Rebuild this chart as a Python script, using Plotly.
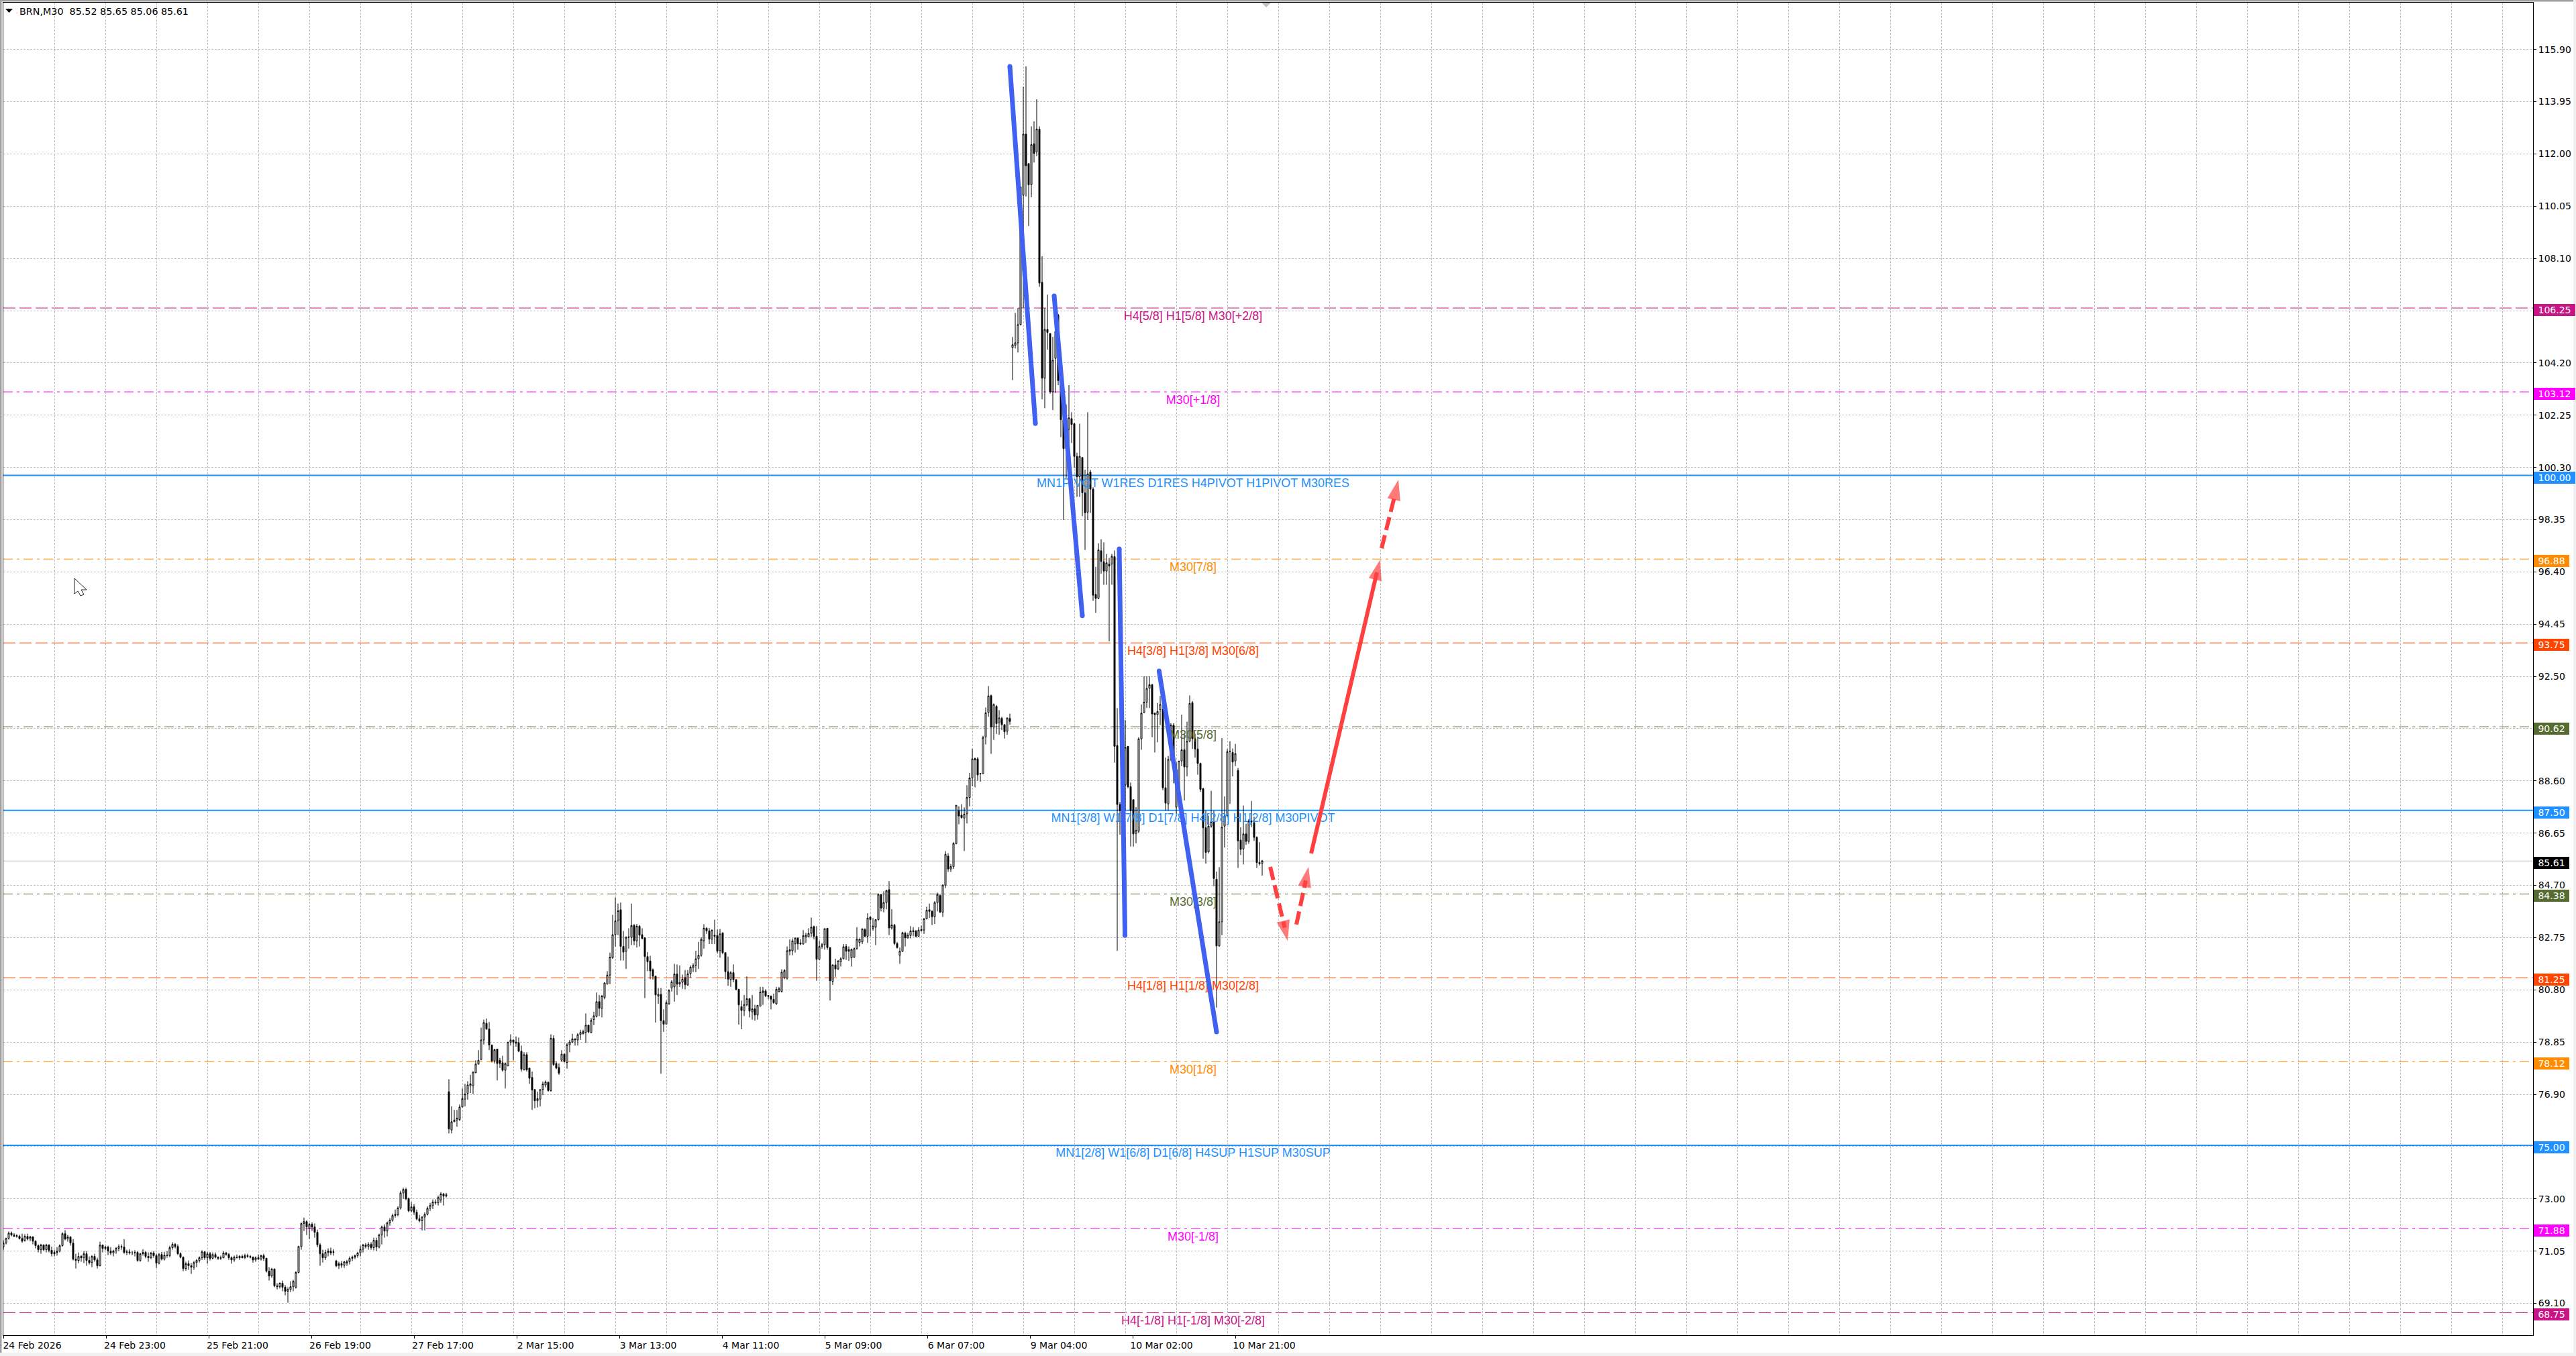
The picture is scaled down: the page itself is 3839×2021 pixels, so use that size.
import plotly.graph_objects as go

# --- data -----------------------------------------------------------------
opens = [
71.20,71.35,71.52,71.72,71.65,71.60,71.60,71.52,71.45,71.60,
71.50,71.58,71.42,71.25,71.10,71.28,71.10,71.28,71.08,70.95,
71.00,71.05,71.25,71.70,71.50,71.58,71.35,70.75,70.70,70.85,
70.80,70.95,70.70,70.62,70.85,70.72,70.50,71.27,71.15,71.20,
71.05,70.98,71.05,71.15,71.22,71.20,71.00,71.02,70.98,70.98,
71.00,70.70,70.95,71.00,70.85,70.80,70.98,70.88,70.60,70.92,
70.75,70.90,70.88,71.18,71.30,71.22,70.95,70.82,70.40,70.58,
70.50,70.45,70.62,70.70,70.80,71.02,70.80,70.95,70.78,70.92,
70.82,70.78,70.80,70.98,70.92,70.80,70.72,70.82,70.80,70.85,
70.80,70.88,70.85,70.82,70.72,70.80,70.75,70.88,70.78,70.30,
70.12,70.38,69.75,69.72,69.85,69.70,69.55,69.62,69.72,69.70,
70.25,71.22,72.08,72.15,71.90,72.05,71.95,71.75,71.28,70.95,
70.80,71.00,71.05,71.00,70.68,70.50,70.58,70.52,70.60,70.65,
70.78,70.82,70.88,70.98,71.12,71.28,71.22,71.30,71.18,71.45,
71.20,71.65,71.95,71.80,72.10,72.20,72.38,72.40,72.66,73.22,
73.35,73.00,72.55,72.70,72.50,72.25,72.18,72.32,72.42,72.65,
72.75,72.88,72.85,72.95,73.18,73.10,
77.00,75.57,75.88,75.94,75.96,76.43,76.72,76.94,77.21,77.21,
77.71,78.03,78.20,78.93,79.55,79.34,78.74,78.15,78.59,78.17,
78.08,77.80,77.96,78.85,78.93,78.85,78.83,78.51,77.81,78.38,
77.88,77.53,77.08,76.66,76.72,77.08,77.25,77.35,77.04,78.99,
78.05,77.90,78.17,78.40,78.09,78.75,78.85,78.97,78.93,79.13,
79.16,79.21,79.48,79.21,79.69,79.81,80.36,80.11,80.51,81.02,
81.35,82.00,82.86,83.37,83.79,82.42,82.24,82.78,82.76,83.20,
82.63,83.18,82.86,82.74,82.04,81.88,81.55,81.31,80.57,80.63,
79.65,79.52,80.28,80.87,80.91,81.39,81.02,81.08,81.26,80.98,
81.40,81.62,81.71,81.96,82.09,82.63,83.10,83.00,82.69,82.84,
82.83,82.26,82.93,82.19,81.48,81.18,81.44,81.18,80.82,80.17,
80.03,80.24,80.47,79.98,80.09,79.86,80.19,80.70,80.76,80.59,
80.57,80.45,80.28,80.74,80.74,81.25,81.23,82.24,82.26,82.52,
82.73,82.55,82.51,82.78,82.78,82.91,83.16,82.80,81.94,82.42,
82.49,83.10,82.38,81.12,81.73,81.58,81.85,81.96,82.42,82.30,
82.00,82.02,82.34,82.57,82.59,83.05,82.80,83.52,83.10,83.14,
83.42,84.36,83.85,84.06,84.54,83.11,83.22,82.53,82.09,82.24,
82.91,82.74,82.83,83.01,83.00,82.80,83.05,83.03,83.45,83.79,
83.73,83.53,84.06,84.32,83.70,84.71,85.79,85.31,85.40,86.26,
87.48,87.32,87.21,87.37,87.98,88.71,89.44,89.42,88.86,88.86,
90.24,91.16,91.78,90.61,91.38,90.76,90.93,90.70,90.45,90.93,
104.77,104.85,104.95,105.63,110.46,112.74,111.64,110.85,112.38,112.07,
112.93,107.21,103.63,105.45,105.30,103.12,104.37,105.99,103.58,102.08,
101.00,101.72,102.12,101.93,100.71,99.95,100.67,99.35,98.63,100.13,
99.49,95.56,95.41,97.19,96.78,96.43,96.69,96.69,96.97,89.92,
87.72,87.49,88.45,89.89,88.38,87.90,86.64,86.72,90.17,91.15,
91.54,92.06,92.19,91.13,91.07,91.26,91.26,88.34,87.74,89.40,
90.68,87.62,88.25,89.34,89.76,89.12,90.08,91.52,90.17,89.79,
89.25,88.31,86.85,85.95,86.91,87.08,84.93,82.44,83.34,86.91,
87.30,89.69,89.66,89.34,88.99,86.39,86.06,86.62,86.34,87.10,
87.04,86.49,85.55,85.52,
]
highs = [
71.45,71.55,71.78,71.78,71.72,71.68,71.66,71.70,71.68,71.70,
71.62,71.60,71.45,71.30,71.32,71.30,71.32,71.30,71.22,71.10,
71.20,71.30,71.75,71.83,71.65,71.60,71.50,70.95,71.00,70.90,
71.05,71.05,70.85,70.90,70.95,70.80,71.40,71.30,71.25,71.25,
71.20,71.10,71.20,71.30,71.30,71.50,71.10,71.12,71.05,71.08,
71.05,70.98,71.12,71.05,71.00,71.02,71.05,70.95,70.98,71.02,
71.02,71.05,71.25,71.38,71.35,71.30,71.00,70.85,70.65,70.70,
70.60,70.68,70.75,70.85,71.08,71.05,71.02,71.02,71.00,71.00,
70.85,70.88,71.05,71.02,70.98,70.85,70.88,70.92,70.90,70.92,
70.95,70.95,70.90,70.85,70.85,70.92,70.92,70.95,70.80,70.45,
70.42,70.40,69.85,69.88,69.95,69.78,69.70,69.92,69.98,70.30,
71.25,72.12,72.30,72.20,72.10,72.12,72.08,71.85,71.35,71.10,
71.10,71.15,71.18,71.12,70.72,70.65,70.68,70.68,70.72,70.85,
70.88,70.92,71.02,71.25,71.32,71.35,71.38,71.38,71.55,71.55,
71.70,72.00,72.05,72.15,72.28,72.45,72.60,72.72,73.30,73.42,
73.42,73.05,72.88,72.80,72.60,72.40,72.35,72.50,72.72,72.85,
72.98,72.98,73.12,73.25,73.22,73.22,
77.46,76.45,76.32,76.32,76.53,77.12,77.29,77.39,77.63,77.75,
78.17,78.55,79.39,79.69,79.73,79.60,78.76,78.60,78.60,78.26,
78.34,78.09,78.85,79.14,78.93,79.06,79.02,78.72,78.47,78.47,
77.88,77.75,77.08,77.00,77.08,77.38,77.42,77.38,79.14,79.10,
78.13,78.05,78.55,78.43,78.81,78.93,79.16,78.99,79.18,79.31,
79.31,79.92,79.50,79.75,79.98,80.70,80.61,80.61,81.08,81.50,
82.19,83.60,84.25,84.02,84.06,83.00,82.80,83.10,84.02,83.26,
83.26,83.22,83.10,82.76,82.21,82.07,81.60,81.33,80.87,80.87,
80.07,80.40,80.82,81.16,81.77,81.75,81.71,81.37,81.54,81.54,
81.71,81.79,82.26,82.59,82.76,83.25,83.14,83.11,83.05,83.42,
83.05,83.07,82.93,82.19,82.04,81.50,81.75,81.20,80.84,80.40,
80.61,81.30,80.49,80.61,80.24,80.24,80.91,80.91,80.82,80.59,
80.59,80.66,80.91,80.91,81.57,81.58,82.42,82.68,82.72,82.76,
82.76,82.69,83.03,82.93,83.10,83.50,83.20,83.18,82.63,82.55,
83.10,83.11,82.38,81.75,81.96,81.90,82.02,82.51,82.51,82.42,
82.34,82.38,83.14,82.72,83.10,83.10,83.66,83.53,83.48,83.43,
84.40,84.38,84.48,84.53,84.86,83.81,83.26,82.59,82.38,82.97,
82.97,82.93,83.18,83.14,83.03,83.14,83.20,83.48,83.90,84.02,
83.77,84.11,84.43,84.38,84.74,85.98,85.90,85.50,86.31,87.69,
87.65,87.73,87.61,88.44,88.90,89.80,89.46,89.49,88.90,90.28,
91.34,92.14,91.82,91.49,91.43,91.24,90.99,90.71,90.96,91.11,
105.17,106.07,106.25,110.77,114.51,115.27,111.64,113.03,113.22,114.04,
113.03,108.18,106.25,106.75,105.30,105.17,105.96,106.03,103.58,103.37,
102.65,103.37,102.36,101.96,100.85,101.93,100.67,100.21,102.36,100.21,
99.56,96.59,97.47,97.62,97.50,97.07,96.92,97.07,97.20,91.32,
87.81,88.77,90.87,89.89,88.54,87.90,87.62,90.23,91.45,92.50,
92.50,92.50,92.22,91.13,91.51,91.77,91.45,89.47,89.53,90.75,
90.75,89.28,89.34,91.07,90.36,90.81,91.79,91.58,90.36,90.23,
89.28,88.34,87.49,87.30,88.23,87.49,85.21,85.38,90.20,88.02,
89.79,90.08,89.81,89.98,89.08,86.87,87.68,87.00,87.17,87.85,
87.26,86.53,86.31,85.65,
]
lows = [
71.10,71.30,71.48,71.60,71.58,71.55,71.48,71.36,71.40,71.45,
71.42,71.30,71.15,71.00,70.95,71.05,71.00,71.00,70.85,70.85,
70.88,71.00,71.22,71.45,71.40,71.25,70.70,70.40,70.60,70.65,
70.60,70.50,70.55,70.45,70.65,70.40,70.48,71.00,71.08,70.90,
70.90,70.85,70.95,71.05,71.10,70.95,70.90,70.92,70.90,70.85,
70.65,70.65,70.88,70.78,70.65,70.75,70.80,70.42,70.55,70.70,
70.70,70.80,70.82,71.10,71.15,70.90,70.78,70.30,70.32,70.35,
70.20,70.35,70.45,70.62,70.72,70.72,70.58,70.70,70.75,70.78,
70.72,70.72,70.78,70.88,70.72,70.58,70.65,70.78,70.72,70.78,
70.75,70.80,70.78,70.62,70.65,70.72,70.70,70.68,70.25,69.95,
70.05,69.70,69.62,69.65,69.55,69.40,69.12,69.52,69.55,69.65,
70.22,71.10,71.80,71.65,71.50,71.80,71.55,71.20,70.50,70.62,
70.72,70.85,70.90,70.88,70.45,70.38,70.42,70.42,70.50,70.55,
70.68,70.75,70.80,70.85,71.00,71.15,71.10,71.10,71.08,71.05,
71.15,71.30,71.55,71.60,72.00,72.15,72.30,72.35,72.60,73.00,
72.95,72.50,72.50,72.40,72.20,72.12,71.82,71.82,72.38,72.55,
72.62,72.78,72.75,72.85,72.75,73.05,
75.44,75.44,75.86,75.69,75.90,76.41,76.45,76.70,76.95,76.91,
77.69,78.01,78.17,78.76,79.31,78.55,78.09,78.05,77.42,77.88,
77.75,77.12,77.96,78.72,78.17,78.68,78.47,77.75,77.80,77.75,
77.29,76.32,76.38,76.41,76.45,76.87,77.16,77.00,77.00,77.96,
77.84,77.63,78.13,78.09,77.86,78.47,78.81,78.72,78.72,78.93,
79.14,78.82,79.18,79.18,79.48,79.77,79.82,79.77,80.45,80.99,
81.01,81.96,82.42,82.84,81.90,81.90,81.58,82.34,82.47,82.47,
82.38,82.42,82.68,80.49,81.50,81.20,81.18,79.58,80.28,77.67,
79.23,79.52,80.24,80.74,80.36,80.61,80.91,80.84,80.82,80.95,
81.25,81.46,81.46,81.58,82.04,82.34,82.89,82.51,82.51,82.51,
82.17,82.00,82.13,81.20,80.95,80.91,81.08,80.78,79.50,79.33,
79.82,80.19,79.77,79.69,79.65,79.69,80.19,80.24,80.53,80.45,
80.07,80.28,80.24,80.70,80.70,81.20,81.18,82.09,82.09,82.19,
82.30,82.47,82.49,82.55,82.76,82.76,82.68,81.14,81.92,82.34,
82.30,82.30,80.40,80.98,81.29,81.54,81.67,81.94,81.92,81.88,
81.67,81.99,82.30,82.42,82.51,82.76,82.55,82.80,83.01,82.47,
83.39,83.73,83.69,83.81,82.84,83.05,82.47,82.34,81.77,82.21,
82.42,82.72,82.72,82.80,82.76,82.80,82.97,82.89,83.43,83.48,
83.22,83.26,83.73,83.67,83.52,84.60,85.20,85.20,85.31,86.23,
86.98,87.19,85.98,87.01,87.65,88.40,88.36,88.61,88.57,88.86,
89.96,90.99,89.61,90.13,90.35,90.32,90.49,90.18,90.32,90.70,
103.56,104.74,104.59,105.60,106.25,110.41,109.31,110.38,111.68,111.92,
107.04,102.84,102.51,104.69,103.05,102.44,103.08,103.37,101.43,98.34,
99.92,99.92,101.21,100.28,99.20,99.20,98.48,97.22,98.34,98.60,
95.32,94.87,95.38,96.33,95.92,95.92,93.81,95.92,89.28,82.25,
86.59,86.85,87.49,88.32,86.15,86.15,86.27,86.66,89.76,91.13,
91.32,91.32,90.23,89.66,90.04,90.68,88.25,87.49,87.49,89.34,
88.51,87.36,87.62,89.15,87.87,88.77,90.04,89.79,89.47,88.83,
88.19,85.70,85.51,85.89,86.85,84.67,80.14,82.41,82.84,86.11,
87.23,87.74,88.77,89.15,85.35,85.83,85.48,86.21,86.25,86.87,
86.36,85.35,85.44,85.06,
]
closes = [
71.35,71.52,71.72,71.65,71.60,71.62,71.52,71.42,71.60,71.50,
71.58,71.42,71.25,71.10,71.28,71.10,71.28,71.08,70.95,71.00,
71.05,71.25,71.70,71.50,71.58,71.35,70.75,70.70,70.85,70.80,
70.95,70.70,70.62,70.85,70.72,70.50,71.27,71.15,71.20,71.05,
70.98,71.05,71.15,71.22,71.20,71.00,71.02,70.98,70.98,71.00,
70.70,70.95,71.00,70.85,70.80,70.98,70.88,70.60,70.92,70.75,
70.90,70.88,71.18,71.30,71.22,70.95,70.82,70.40,70.58,70.50,
70.45,70.62,70.70,70.80,71.02,70.80,70.95,70.78,70.92,70.82,
70.78,70.80,70.98,70.92,70.80,70.72,70.82,70.80,70.85,70.80,
70.88,70.85,70.82,70.72,70.80,70.75,70.88,70.78,70.30,70.12,
70.38,69.75,69.72,69.85,69.70,69.55,69.62,69.72,69.92,70.25,
71.22,72.08,72.15,71.95,72.05,71.95,71.75,71.28,70.95,70.80,
71.00,71.05,70.98,71.02,70.50,70.58,70.52,70.65,70.65,70.78,
70.82,70.88,70.98,71.12,71.28,71.22,71.30,71.18,71.45,71.20,
71.65,71.95,71.80,72.10,72.20,72.38,72.42,72.66,73.22,73.35,
73.00,72.55,72.70,72.50,72.25,72.18,72.32,72.42,72.65,72.75,
72.88,72.85,73.05,73.18,73.10,73.15,
75.61,75.88,75.94,76.01,76.43,76.74,76.91,77.25,77.29,77.73,
78.03,78.17,78.93,79.58,79.34,78.74,78.15,78.57,78.05,78.05,
77.80,78.05,78.85,78.93,78.85,78.81,78.51,77.84,78.38,77.81,
77.50,77.06,76.66,76.74,77.08,77.29,77.36,77.04,78.99,78.01,
77.88,77.69,78.40,78.12,78.75,78.85,78.97,78.93,79.13,79.21,
79.24,79.48,79.23,79.66,79.83,80.36,80.11,80.57,81.06,81.35,
82.02,82.86,83.37,83.75,82.42,82.21,82.76,82.76,83.20,82.63,
83.18,82.84,82.72,82.04,81.85,81.51,81.31,80.61,80.63,79.65,
79.52,80.32,80.78,81.10,81.39,81.01,81.08,81.20,80.99,81.40,
81.65,81.71,81.96,82.09,82.68,83.10,83.00,82.69,83.03,82.80,
82.24,82.89,82.19,81.48,81.20,81.44,81.18,80.82,80.24,80.03,
80.25,80.47,80.01,80.09,79.86,80.22,80.72,80.76,80.57,80.56,
80.45,80.32,80.82,80.84,81.46,81.52,82.26,82.30,82.63,82.73,
82.52,82.51,82.82,82.84,82.91,83.14,82.80,81.94,82.42,82.49,
83.08,82.38,81.14,81.73,81.58,81.88,81.96,82.41,82.24,82.24,
82.31,82.34,82.69,82.69,83.07,82.80,83.48,83.42,83.18,83.42,
84.36,83.85,84.06,84.51,83.11,83.22,82.53,82.38,82.24,82.93,
82.74,82.84,83.00,82.97,82.80,83.03,83.01,83.45,83.77,83.73,
83.53,84.06,84.36,83.70,84.71,85.86,85.31,85.40,86.27,87.69,
87.29,87.23,87.36,87.98,88.71,89.42,89.38,88.82,88.88,90.22,
91.14,91.77,90.61,91.45,90.74,90.95,90.70,90.43,90.95,90.82,
104.88,104.95,105.63,110.77,112.74,111.56,110.85,112.35,112.02,112.93,
107.18,103.63,105.45,105.34,103.12,104.30,105.38,103.54,102.08,101.00,
102.08,102.15,101.90,100.71,99.95,100.71,99.35,98.60,100.06,99.49,
95.53,95.41,97.22,96.79,96.43,96.74,96.62,96.98,89.89,87.72,
87.49,88.51,89.85,88.38,87.49,86.62,86.75,90.17,91.13,91.54,
92.05,92.19,91.10,91.07,91.19,91.45,88.34,87.77,89.40,90.68,
89.40,89.02,89.34,89.76,89.12,90.08,91.49,90.17,89.79,89.25,
88.28,86.85,85.93,86.91,87.07,84.96,82.44,83.34,86.87,87.30,
89.69,89.70,89.30,89.62,86.36,86.04,86.62,86.34,87.10,87.07,
86.49,85.55,85.51,85.61,
]
assert len(opens) == len(highs) == len(lows) == len(closes) == 470

price_ticks = [115.90,113.95,112.00,110.05,108.10,106.15,104.20,102.25,100.30,98.35,96.40,
               94.45,92.50,90.55,88.60,86.65,84.70,82.75,80.80,78.85,76.90,74.95,73.00,71.05,69.10]
time_labels = ["24 Feb 2026","24 Feb 23:00","25 Feb 21:00","26 Feb 19:00","27 Feb 17:00",
               "2 Mar 15:00","3 Mar 13:00","4 Mar 11:00","5 Mar 09:00","6 Mar 07:00",
               "9 Mar 04:00","10 Mar 02:00","10 Mar 21:00"]
time_label_bars = [0,38.25,76.5,114.75,153,191.25,229.5,267.75,306,344.25,382.5,420.75,459]
grid_bars = list(range(19, 943, 19))

level_prices = [106.25,103.12,100.00,96.88,93.75,90.62,87.50,84.38,81.25,78.12,75.00,71.88,68.75]
level_names = ["H4[5/8] H1[5/8] M30[+2/8]","M30[+1/8]",
               "MN1PIVOT W1RES D1RES H4PIVOT H1PIVOT M30RES","M30[7/8]",
               "H4[3/8] H1[3/8] M30[6/8]","M30[5/8]",
               "MN1[3/8] W1[7/8] D1[7/8] H4[2/8] H1[2/8] M30PIVOT","M30[3/8]",
               "H4[1/8] H1[1/8] M30[2/8]","M30[1/8]",
               "MN1[2/8] W1[6/8] D1[6/8] H4SUP H1SUP M30SUP","M30[-1/8]",
               "H4[-1/8] H1[-1/8] M30[-2/8]"]
VIOLET, MAGENTA, BLUE, ORANGE, REDORANGE, OLIVE = "#C71585","#FF00FF","#1E90FF","#FF8C00","#FF4500","#556B2F"
level_colors = [VIOLET,MAGENTA,BLUE,ORANGE,REDORANGE,OLIVE,BLUE,OLIVE,REDORANGE,ORANGE,BLUE,MAGENTA,VIOLET]
LONG, DOT, SOLID = "18px,6px", "14px,6px,4px,6px", "solid"
level_dashes = [LONG,DOT,SOLID,DOT,LONG,DOT,SOLID,DOT,LONG,DOT,SOLID,DOT,LONG]
level_widths = [1,1,2,1,1,1,2,1,1,1,2,1,1]
label_bar = 443.25
label_drop = 0.1
bid_price = 85.61

blue_strokes = [([375,384.5],[115.27,101.94]),
                ([391.5,402],[106.70,94.76]),
                ([415.75,417.9],[97.26,82.83]),
                ([430.6,452],[92.70,79.23])]
# shaft start, head base, tip
red_arrows = [([487.25,511.75,512.9],[85.89,96.38,96.85],"solid"),
              ([513.5,518.5,519.75],[97.28,99.29,99.84],"20px,8px"),
              ([472,477.4,478.5],[85.39,83.12,82.63],"20px,8px"),
              ([481.75,485.25,486.25],[83.24,84.88,85.39],"20px,8px")]

header_text = "BRN,M30\u00a0\u00a085.52 85.65 85.06 85.61"

# --- layout constants -------------------------------------------------------
W, H = 3839, 2021
L, R, T, B = 5, 3775, 4, 1990
FONT = "DejaVu Sans"
GRID = "#C0C0C0"
px = lambda x: (x - L) / (R - L)
py = lambda y: (B - y) / (B - T)

fig = go.Figure()
fig.add_trace(go.Candlestick(
    x=list(range(len(opens))), open=opens, high=highs, low=lows, close=closes,
    whiskerwidth=0, hoverinfo="skip", showlegend=False,
    increasing=dict(line=dict(color="black", width=1), fillcolor="white"),
    decreasing=dict(line=dict(color="black", width=1), fillcolor="black")))

fig.add_trace(go.Scatter(
    x=[label_bar] * len(level_prices), y=[p - label_drop for p in level_prices],
    text=level_names, mode="text",
    textposition="bottom center", showlegend=False, hoverinfo="skip",
    textfont=dict(family="Liberation Sans", size=18, color=level_colors)))

for xs, ys in blue_strokes:
    fig.add_trace(go.Scatter(x=xs, y=ys, mode="lines+markers", showlegend=False, hoverinfo="skip",
                             line=dict(color="#4161F0", width=7),
                             marker=dict(color="#4161F0", size=7)))
for xs, ys, dash in red_arrows:
    fig.add_trace(go.Scatter(x=xs[:2], y=ys[:2], mode="lines", showlegend=False, hoverinfo="skip",
                             line=dict(color="#FF4040", width=6, dash=dash)))
    fig.add_trace(go.Scatter(x=xs[1:], y=ys[1:], mode="markers", showlegend=False, hoverinfo="skip",
                             marker=dict(symbol="arrow", angleref="previous", size=[0, 32],
                                         color="#FF4040", line=dict(width=0))))

shapes = []
for p, c, d, w in zip(level_prices, level_colors, level_dashes, level_widths):
    shapes.append(dict(type="line", xref="paper", yref="y", x0=0, x1=1, y0=p, y1=p, layer="below",
                       line=dict(color=c, width=w, dash=d)))
shapes.append(dict(type="line", xref="paper", yref="y", x0=0, x1=1, y0=bid_price, y1=bid_price,
                   layer="below", line=dict(color="#C0C0C0", width=1)))

def poly(points, **kw):
    path = "M" + " L".join(f"{px(a):.6f},{py(b):.6f}" for a, b in points) + " Z"
    return dict(type="path", xref="paper", yref="paper", path=path, **kw)

# window furniture
shapes += [
    poly([(0,0),(W,0),(W,2.5),(0,2.5)], fillcolor="#A0A0A0", line=dict(width=0)),
    poly([(0,0),(2.5,0),(2.5,H),(0,H)], fillcolor="#A0A0A0", line=dict(width=0)),
    poly([(W-4,0),(W,0),(W,H),(W-4,H)], fillcolor="#F0F0F0", line=dict(width=0)),
    poly([(0,H-5),(W,H-5),(W,H),(0,H)], fillcolor="#F0F0F0", line=dict(width=0)),
    poly([(8,13),(19,13),(13.5,19)], fillcolor="black", line=dict(width=0)),
    poly([(1880,4),(1894,4),(1887,11)], fillcolor="#C0C0C0", line=dict(width=0)),
    poly([(111,862),(111,885),(116,881),(120,888),(125,886),(121,879),(129,879)],
         fillcolor="white", line=dict(color="#202020", width=1)),
]

annotations = [dict(xref="paper", yref="paper", x=px(27), y=py(17), xanchor="left", yanchor="middle",
                    text=header_text, showarrow=False, font=dict(family=FONT, size=14.3, color="black"))]
for p, c in list(zip(level_prices, level_colors)) + [(bid_price, "black")]:
    label = f"{p:.2f}"
    annotations.append(dict(xref="paper", yref="y", x=1, xshift=1, y=p, yshift=-3,
                            xanchor="left", yanchor="middle", text=label, showarrow=False,
                            bgcolor=c, borderpad=0, borderwidth=0, align="center",
                            width=62 if len(label) == 6 else 53, height=18,
                            font=dict(family=FONT, size=14, color="white")))

fig.update_layout(
    width=W, height=H, autosize=False, paper_bgcolor="white", plot_bgcolor="white",
    margin=dict(l=L, r=W - R, t=T, b=H - B, pad=0), showlegend=False,
    shapes=shapes, annotations=annotations,
    font=dict(family=FONT, size=14, color="black"),
    xaxis=dict(range=[0, (R - L) / 4], rangeslider=dict(visible=False), showgrid=False, zeroline=False,
               tickmode="array", tickvals=time_label_bars, ticktext=time_labels, ticks="outside",
               ticklen=4, tickcolor="black", tickangle=0, ticklabelshift=43, ticklabelstandoff=-2,
               showline=True, mirror=True,
               linecolor="black", linewidth=1, tickfont=dict(family=FONT, size=14, color="black"),
               minor=dict(tickmode="array", tickvals=grid_bars, showgrid=True, gridcolor=GRID,
                          griddash="3px,2px", gridwidth=1, ticks="")),
    yaxis=dict(range=[67.91, 117.646], side="right", tickmode="array", tickvals=price_ticks,
               ticktext=[f"{v:.2f}" for v in price_ticks], ticks="outside", ticklen=4, tickcolor="black",
               showgrid=True, gridcolor=GRID, griddash="3px,2px", gridwidth=1, zeroline=False,
               showline=True, mirror=True, linecolor="black", linewidth=1,
               tickfont=dict(family=FONT, size=14, color="black")),
)

fig.write_html("out.html", config=dict(displayModeBar=False),
               post_script="document.body.style.margin='0';")
